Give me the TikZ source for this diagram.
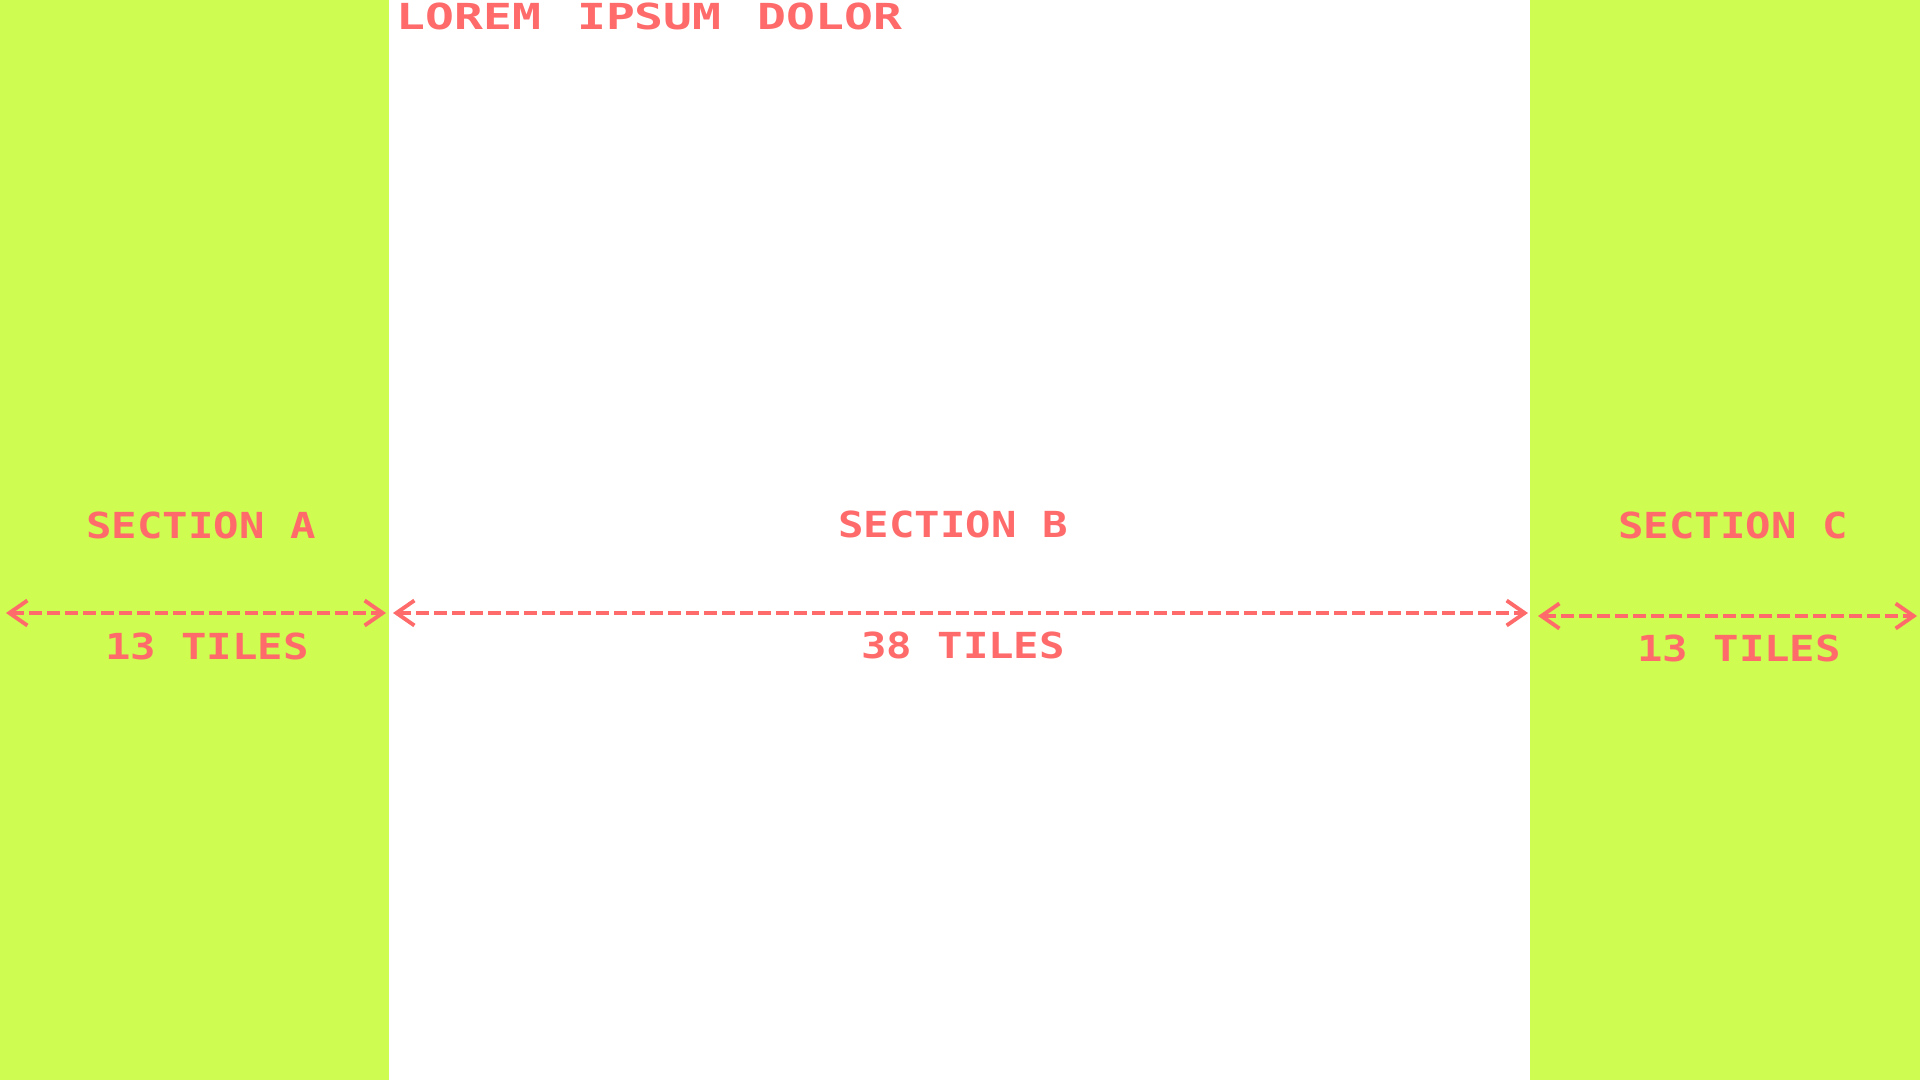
\documentclass[tikz,border=0pt]{standalone}
\usepackage{fontspec}
\usepackage{xcolor}
\usepackage{tikz}
\usetikzlibrary{arrows.meta, positioning}
\newfontfamily\pixfont{DejaVu Sans Mono}[FakeStretch=1.18]
\newfontfamily\pixwidefont{DejaVu Sans Mono}[FakeStretch=1.34]
\definecolor{limegreen}{RGB}{207,252,80}
\definecolor{tilered}{RGB}{255,107,107}
\tikzset{
  panel/.style={fill=limegreen, draw=none},
  label/.style={text=tilered, inner sep=0pt, font=\pixfont\bfseries\fontsize{10.2}{12}\selectfont},
  heading/.style={label, font=\pixwidefont\bfseries\fontsize{10.2}{12}\selectfont},
  span/.style={{Straight Barb[length=1.8mm, width=2.5mm, line width=1.1pt]}-{Straight Barb[length=1.8mm, width=2.5mm, line width=1.1pt]},
    line width=1.1pt, color=tilered, dash pattern=on 1.3mm off 0.5mm},
}

\begin{document}
\begin{tikzpicture}
  \useasboundingbox (0,0) rectangle (19.2,-10.8);
  % side sections
  \fill[panel] (0,0) rectangle (3.89,-10.8);
  \fill[panel] (15.3,0) rectangle (19.2,-10.8);

  \node[heading, anchor=north west] (title) at (3.96,-0.02)
    {LOREM\hspace{1.0em}IPSUM\hspace{1.0em}DOLOR};

  \node[label] (secA) at (2.01,-5.255) {SECTION A};
  \node[label] (secB) at (9.53,-5.24) {SECTION B};
  \node[label] (secC) at (17.33,-5.255) {SECTION C};

  % span markers
  \coordinate (aL) at (0.06,-6.13);
  \coordinate (aR) at (3.86,-6.13);
  \coordinate (bL) at (3.93,-6.13);
  \coordinate (bR) at (15.28,-6.13);
  \coordinate (cL) at (15.38,-6.16);
  \coordinate (cR) at (19.17,-6.16);
  \draw[span] (aL) -- (aR);
  \draw[span] (bL) -- (bR);
  \draw[span] (cL) -- (cR);

  \node[label] (tilesA) at (2.07,-6.465) {13 TILES};
  \node[label] (tilesB) at (9.63,-6.45) {38 TILES};
  \node[label] (tilesC) at (17.39,-6.485) {13 TILES};
\end{tikzpicture}
\end{document}
